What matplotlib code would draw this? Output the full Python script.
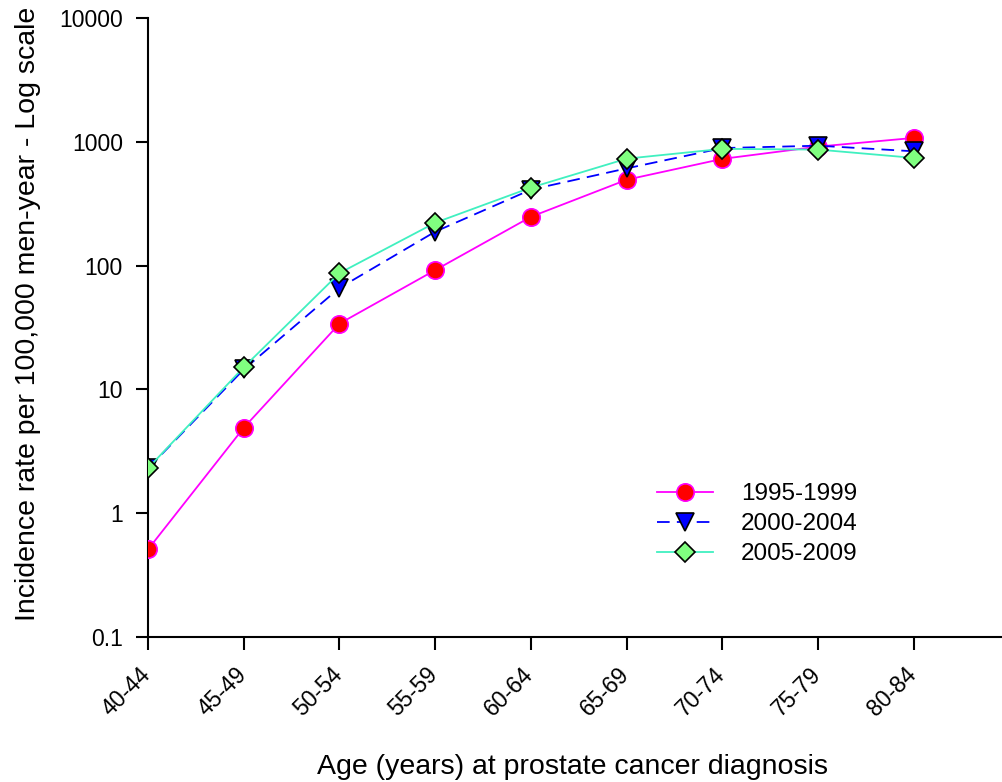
import matplotlib
matplotlib.use("Agg")
import matplotlib.pyplot as plt
from matplotlib.ticker import FixedLocator, NullLocator
from matplotlib.transforms import ScaledTranslation

plt.rcParams['font.family'] = ['Liberation Sans', 'DejaVu Sans']

ages = ["40-44", "45-49", "50-54", "55-59", "60-64", "65-69", "70-74", "75-79", "80-84"]
p1995 = [0.51, 4.9, 34, 92, 248, 494, 728, 915, 1075]
p2000 = [2.3, 14.5, 66, 188, 411, 610, 890, 930, 838]
p2005 = [2.31, 15.1, 87, 222, 427, 731, 877, 865, 741]
yticks = [0.1, 1, 10, 100, 1000, 10000]
ytick_labels = ["0.1", "1", "10", "100", "1000", "10000"]

fig = plt.figure(figsize=(10.03, 7.82), dpi=100)
ax = fig.add_axes([148/1003, 1-637/782, 1-148/1003, (637-18)/782])

x = list(range(len(ages)))
ax.plot(x, p1995, color='#FF00FF', lw=1.3, marker='o', ms=12.5,
        mfc='#FF0000', mec='#FF00FF', mew=1.2, label='1995-1999', zorder=3)
ax.plot(x, p2000, color='#0000FF', lw=1.3, ls=(0, (7, 4)), marker='v', ms=12.5,
        mfc='#0000FF', mec='black', mew=1.2, label='2000-2004', zorder=4)
ax.plot(x, p2005, color='#40F0C0', lw=1.3, marker='D', ms=10.5,
        mfc='#80FF80', mec='black', mew=1.2, label='2005-2009', zorder=5)

ax.set_yscale('log')
ax.set_ylim(0.1, 10000)
ax.set_xlim(0, (1003-148)/95.75)
ax.yaxis.set_major_locator(FixedLocator(yticks))
ax.yaxis.set_minor_locator(NullLocator())
ax.set_yticklabels(ytick_labels)
ax.set_xticks(x)
ax.set_xticklabels(ages, rotation=45, ha='right', rotation_mode='anchor')

for s in ['top', 'right']:
    ax.spines[s].set_visible(False)
for s in ['left', 'bottom']:
    ax.spines[s].set_linewidth(1.5)
    ax.spines[s].set_clip_on(False)
ax.tick_params(axis='both', direction='out', length=9, width=1.5)
ax.tick_params(axis='x', labelsize=16.5, pad=8)
ax.tick_params(axis='y', labelsize=16.5, pad=9)

offset = ScaledTranslation(-9/100, -2/100, fig.dpi_scale_trans)
for lab in ax.get_xticklabels():
    lab.set_transform(lab.get_transform() + offset)

fig.text(573/1003, 1-767/782, 'Age (years) at prostate cancer diagnosis',
         fontsize=20.5, ha='center', va='center')
fig.text(28/1003, 1-314/782, 'Incidence rate per 100,000 men-year - Log scale',
         fontsize=20.5, ha='center', va='center', rotation=90)

leg = ax.legend(loc='upper left', bbox_to_anchor=(645/1003, 1-471/782),
                bbox_transform=fig.transFigure, frameon=False, fontsize=17.5,
                handlelength=2.3, handletextpad=1.15, labelspacing=0.33, borderpad=0)

fig.savefig('out.png', dpi=100)
